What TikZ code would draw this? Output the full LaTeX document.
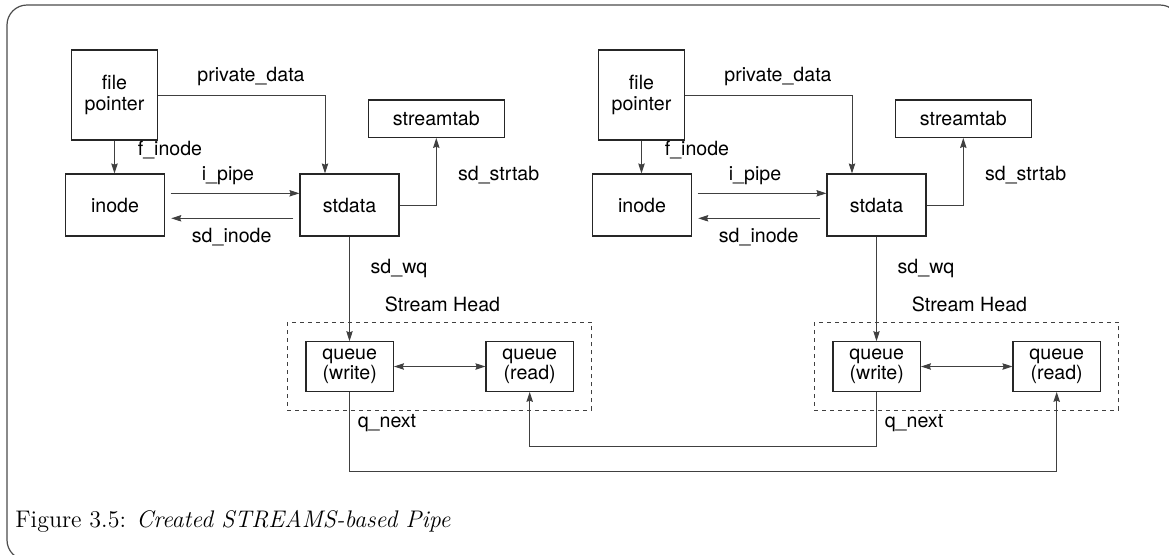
\documentclass[tikz,border=0pt]{standalone}
\usepackage{fontspec}
\setmainfont{Latin Modern Roman}
\newfontfamily\figfont{TeX Gyre Heros}
\usetikzlibrary{arrows.meta}

\begin{document}
\begin{tikzpicture}[x=0.5pt,y=-0.5pt,
  every node/.style={font=\figfont\fontsize{9.8}{10.4}\selectfont, inner sep=0pt},
  box/.style={draw=black!85, line width=0.55pt, align=center},
  link/.style={draw=black!75, line width=0.5pt},
  tip/.tip={Stealth[length=5pt,width=3.2pt,inset=0.6pt]},
  arr/.style={link, -tip},
  darr/.style={link, tip-tip},
  headbox/.style={draw=black!75, line width=0.5pt, dash pattern=on 2pt off 2pt,
    minimum width=152.2pt, minimum height=43.7pt},
  qbox/.style={box, minimum width=43.7pt, minimum height=24.8pt,
    font=\figfont\fontsize{9.8}{9.2}\selectfont},
]
\useasboundingbox (0,0) rectangle (1169,554);

% outer frame
\draw[black!70, line width=0.6pt, rounded corners=10pt] (7,5) rectangle (1180,560);

% two identical pipe ends, side by side
\foreach \s/\dx in {L/0pt, R/263.5pt} {
  \begin{scope}[xshift=\dx]
    \node[box, minimum width=43.4pt, minimum height=45pt,
      font=\figfont\fontsize{9.8}{10.3}\selectfont] (\s-fp) at (114.5,95) {file\\pointer};
    \node[box, minimum width=49.3pt, minimum height=31pt] (\s-inode) at (115,205) {inode};
    \node[box, minimum width=49.5pt, minimum height=31pt] (\s-sd) at (349.5,205) {stdata};
    \node[box, minimum width=67.8pt, minimum height=18.7pt] (\s-tab) at (436.3,118.7) {streamtab};
    \node[headbox] (\s-head) at (439.5,366.35) {};
    \node[qbox] (\s-qw) at (349.7,366.5) {queue\\(write)};
    \node[qbox] (\s-qr) at (529.7,366.5) {queue\\(read)};

    % labels
    \node (\s-lpd)  at (251,76)    {private\_data};
    \node (\s-lfi)  at (170,150)   {f\_inode};
    \node (\s-lip)  at (228,176)   {i\_pipe};
    \node (\s-lsi)  at (231.7,237) {sd\_inode};
    \node (\s-lst)  at (498.7,175) {sd\_strtab};
    \node (\s-lwq)  at (399,268)   {sd\_wq};
    \node (\s-lsh)  at (442.5,304) {Stream Head};
    \node (\s-lqn)  at (387,423)   {q\_next};

    % connectors
    \draw[arr] (\s-fp.south) -- (\s-fp.south |- \s-inode.north);
    \draw[arr] (\s-fp.east) -| ([xshift=-12.25pt]\s-sd.north);
    \draw[arr] ([shift={(2.85pt,5.85pt)}]\s-inode.east) -- ([yshift=5.85pt]\s-sd.west);
    \draw[arr] ([shift={(-3pt,-6.65pt)}]\s-sd.west) -- ([shift={(3.2pt,-6.65pt)}]\s-inode.east);
    \draw[arr] (\s-sd.east) -| (\s-tab.south);
    \draw[arr] (\s-sd.south) -- (\s-sd.south |- \s-qw.north);
    \draw[darr] (\s-qw.east) -- (\s-qr.west);
  \end{scope}
}

% q_next links crossing between the two stream heads
\coordinate (lowA) at (0,471);
\coordinate (lowB) at (0,446.7);
\draw[arr] (L-qw.south) -- (L-qw.south |- lowA) -| (R-qr.south);
\draw[arr] (R-qw.south) -- (R-qw.south |- lowB) -| (L-qr.south);

% caption
\node[font=\rmfamily\fontsize{12}{14}\selectfont, anchor=base west] (caption) at (15,527)
  {Figure 3.5: \textit{Created STREAMS-based Pipe}};
\end{tikzpicture}
\end{document}
